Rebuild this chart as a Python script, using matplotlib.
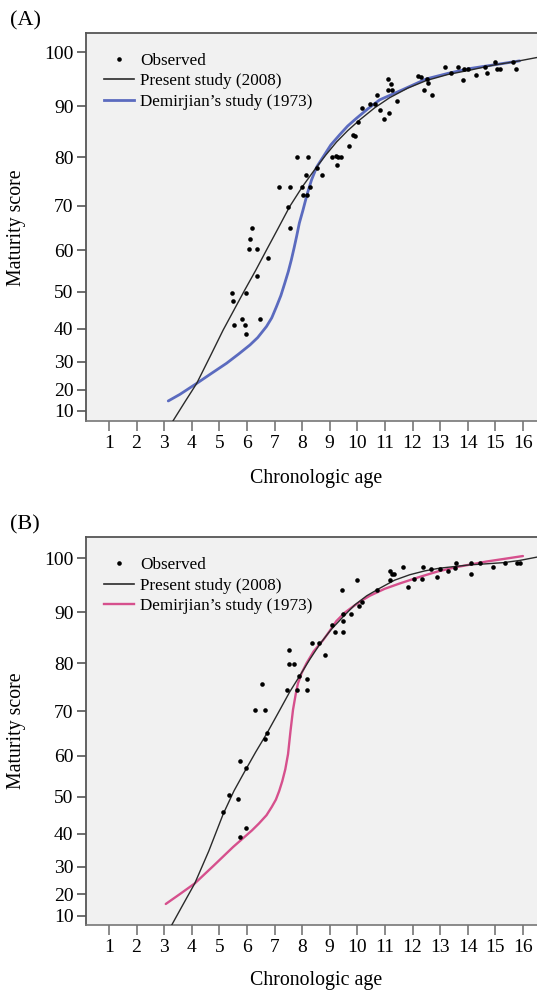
import numpy as np
import matplotlib
matplotlib.use("Agg")
import matplotlib.pyplot as plt
from matplotlib.lines import Line2D

plt.rcParams['font.family'] = ['Liberation Serif', 'DejaVu Serif']

# ---------------- Data: panel A ----------------
obs_age_A = [5.45, 5.50, 5.54, 5.84, 5.93, 5.95, 5.95, 6.08, 6.11, 6.17, 6.35, 6.35, 6.47, 6.77,
             7.17, 7.50, 7.56, 7.56, 7.80, 7.98, 8.13, 8.04, 8.16, 8.22, 8.28, 8.53, 8.71,
             9.07, 9.21, 9.31, 9.41, 9.27, 9.70, 9.83, 9.91, 10.03, 10.18, 10.46, 10.64, 10.70,
             10.82, 10.96, 11.14, 11.10, 11.22, 11.12, 11.26, 11.45, 12.21, 12.30, 12.53, 12.57,
             12.41, 12.69, 13.17, 13.39, 13.66, 13.82, 13.86, 14.02, 14.30, 14.62, 14.71, 14.99,
             15.07, 15.17, 15.65, 15.74]
obs_score_A = [49.7, 47.7, 41.1, 42.8, 41.1, 49.7, 38.6, 60.3, 62.6, 65.2, 60.3, 53.9, 42.8, 58.2,
               74.0, 69.8, 74.0, 65.2, 80.1, 74.0, 76.5, 72.3, 72.3, 80.1, 74.0, 77.8, 76.5,
               80.1, 80.3, 80.1, 80.0, 78.5, 82.3, 84.5, 84.3, 86.9, 89.6, 90.4, 90.4, 92.2,
               89.3, 87.5, 88.8, 95.0, 94.1, 93.0, 93.0, 91.0, 95.7, 95.4, 95.0, 94.3,
               93.0, 92.1, 97.3, 96.1, 97.3, 94.9, 96.9, 96.9, 95.8, 97.3, 96.1, 98.2,
               97.0, 97.0, 98.2, 97.0]

present_age_A = [3.32, 3.75, 4.18, 4.66, 5.14, 5.53, 5.92, 6.32, 6.71, 7.12, 7.55, 8.02, 8.49,
                 8.86, 9.25, 9.65, 10.09, 10.63, 11.17, 11.83, 12.50, 13.27, 14.07, 14.90,
                 15.76, 16.50]
present_score_A = [2.8, 14.6, 22.4, 31.6, 39.7, 45.2, 50.4, 55.3, 60.1, 64.9, 69.8, 74.1, 77.8,
                   80.5, 83.1, 85.3, 87.4, 89.7, 91.6, 93.4, 94.8, 95.9, 96.7, 97.6,
                   98.3, 99.0]

dem_age_A = [3.15, 3.57, 4.18, 4.69, 5.26, 5.70, 6.11, 6.39, 6.71, 6.90, 7.07, 7.23, 7.37, 7.50,
             7.61, 7.71, 7.80, 7.90, 8.03, 8.18, 8.34, 8.53, 8.76, 9.04, 9.36, 9.65, 9.97,
             10.38, 10.81, 11.64, 12.50, 13.27, 14.07, 14.98, 15.88]
dem_score_A = [15.1, 18.0, 22.4, 25.9, 29.5, 32.5, 35.3, 37.5, 40.7, 43.1, 46.1, 49.0, 52.1, 55.0,
               57.8, 60.6, 63.2, 66.2, 69.0, 72.4, 75.4, 78.1, 80.1, 82.5, 84.5, 86.2, 87.7,
               89.5, 91.2, 93.1, 95.1, 96.1, 97.0, 97.7, 98.4]

# ---------------- Data: panel B ----------------
obs_age_B = [5.14, 5.35, 5.66, 5.76, 5.95, 5.95, 5.76, 6.29, 6.53, 6.65, 6.74, 6.65, 7.46, 7.52,
             7.52, 7.70, 7.82, 7.90, 8.16, 8.18, 8.34, 8.60, 8.83, 9.07, 9.19, 9.47, 9.47, 9.47,
             9.76, 9.43, 9.99, 10.07, 10.18, 10.71, 11.18, 11.26, 11.33, 11.18, 11.64, 11.84,
             12.05, 12.34, 12.39, 12.66, 12.87, 13.00, 13.28, 13.57, 13.55, 14.13, 14.13, 14.44,
             14.90, 15.35, 15.77, 15.89]
obs_score_B = [46.0, 50.5, 49.4, 58.8, 57.2, 41.8, 39.1, 70.3, 75.7, 70.3, 65.2, 63.9, 74.4, 82.7,
               79.9, 79.9, 74.4, 77.4, 74.4, 76.8, 84.0, 84.0, 81.7, 87.6, 86.2, 86.2, 88.4, 89.7,
               89.7, 94.1, 96.0, 91.1, 91.9, 94.1, 97.7, 97.1, 97.1, 96.0, 98.4, 94.7,
               96.3, 96.3, 98.4, 98.0, 96.5, 98.0, 97.7, 99.2, 98.2, 99.2, 97.1, 99.1,
               98.4, 99.2, 99.1, 99.1]

present_age_B = [3.27, 3.69, 4.11, 4.62, 5.14, 5.53, 5.92, 6.32, 6.73, 7.14, 7.55, 7.92, 8.28,
                 8.64, 9.04, 9.48, 9.91, 10.34, 10.81, 11.35, 11.90, 12.44, 12.98, 13.53, 14.07,
                 14.69, 15.28, 15.88, 16.50]
present_score_B = [3.15, 15.75, 24.2, 35.0, 45.5, 51.5, 56.3, 60.9, 65.2, 69.7, 74.1, 77.5, 80.8,
                   83.8, 86.6, 89.1, 91.4, 93.1, 94.5, 96.0, 97.0, 97.7, 98.2, 98.5, 98.8,
                   99.0, 99.2, 99.6, 100.2]

dem_age_B = [3.06, 3.57, 4.11, 4.80, 5.50, 5.92, 6.18, 6.43, 6.71, 6.90, 7.05, 7.17, 7.28, 7.39,
             7.49, 7.58, 7.67, 7.77, 7.85, 7.99, 8.16, 8.42, 8.76, 9.00, 9.24, 9.54, 9.85,
             10.16, 10.45, 10.99, 11.54, 12.26, 12.91, 13.59, 14.14, 14.67, 15.34, 16.00]
dem_score_B = [15.9, 20.1, 24.2, 30.4, 36.2, 39.2, 41.0, 42.9, 45.2, 47.4, 49.3, 51.5, 53.9, 56.8,
               60.4, 65.7, 70.3, 73.7, 75.9, 78.1, 80.0, 82.4, 84.6, 86.4, 88.3, 89.9, 91.1,
               92.2, 93.1, 94.4, 95.4, 96.6, 97.6, 98.4, 98.9, 99.4, 99.9, 100.4]

yticks = [10, 20, 30, 40, 50, 60, 70, 80, 90, 100]
xticks = list(range(1, 17))

legend_labels = ["Observed", "Present study (2008)", "Demirjian\u2019s study (1973)"]

# ---------------- Figure ----------------
W, H = 537, 990
fig = plt.figure(figsize=(W / 100, H / 100), dpi=100)


def fwd(y):
    y = np.asarray(y, dtype=float)
    return np.sign(y) * np.abs(y) ** 1.5


def inv(v):
    v = np.asarray(v, dtype=float)
    return np.sign(v) * np.abs(v) ** (2.0 / 3.0)


def make_panel(top_px, bot_px, ylim, obs_x, obs_y, px, py, dx, dy, dcolor, dlw, tag, tag_y,
               xlabel_y, ylabel_y):
    left_px = 86
    ax = fig.add_axes([left_px / W, 1 - bot_px / H, (W - left_px) / W, (bot_px - top_px) / H])
    ax.set_facecolor('#f1f1f1')
    ax.set_yscale('function', functions=(fwd, inv))
    ax.set_xlim(0.17, 16.51)
    ax.set_ylim(*ylim)

    ax.plot(dx, dy, color=dcolor, lw=dlw, solid_capstyle='round', solid_joinstyle='round',
            zorder=2)
    ax.plot(px, py, color='#2a2a2a', lw=1.0, solid_joinstyle='round', zorder=3)
    ax.plot(obs_x, obs_y, 'o', color='black', ms=3.3, mew=0, zorder=4)

    ax.set_yticks(yticks)
    ax.set_yticklabels([str(t) for t in yticks])
    ax.set_xticks(xticks)
    ax.set_xticklabels([str(t) for t in xticks])
    ax.minorticks_off()
    ax.tick_params(axis='y', direction='out', length=6.5, width=1.2, color='#555555',
                   labelsize=14, pad=2.5)
    ax.tick_params(axis='x', direction='out', length=7.0, width=1.2, color='#777777',
                   labelsize=14, pad=3)
    for s in ['top', 'left']:
        ax.spines[s].set_color('#555555')
        ax.spines[s].set_linewidth(1.3)
    ax.spines['bottom'].set_color('#777777')
    ax.spines['bottom'].set_linewidth(1.2)
    ax.spines['right'].set_visible(False)

    handles = [
        Line2D([], [], marker='o', ls='none', color='black', ms=3.3, mew=0),
        Line2D([], [], color='#2a2a2a', lw=1.2),
        Line2D([], [], color=dcolor, lw=dlw),
    ]
    ax_h = bot_px - top_px
    ax.legend(handles, legend_labels, loc='upper left',
              bbox_to_anchor=(18 / (W - left_px), 1 - 19.5 / ax_h),
              frameon=False, fontsize=12.3, handlelength=1.75, handletextpad=0.35,
              labelspacing=0.28, borderpad=0, borderaxespad=0)

    fig.text(10 / W, 1 - tag_y / H, tag, fontsize=16, ha='left', va='center')
    fig.text(316 / W, 1 - xlabel_y / H, 'Chronologic age', fontsize=14.3, ha='center', va='center')
    fig.text(17 / W, 1 - ylabel_y / H, 'Maturity score', fontsize=14.3, ha='center', va='center',
             rotation=90)
    return ax


make_panel(33, 420.7, (3.09, 103.39), obs_age_A, obs_score_A, present_age_A, present_score_A,
           dem_age_A, dem_score_A, '#5b6bbf', 2.0, '(A)', 21, 478, 228)
make_panel(537.3, 925.3, (3.16, 103.75), obs_age_B, obs_score_B, present_age_B, present_score_B,
           dem_age_B, dem_score_B, '#d6508d', 1.7, '(B)', 525, 981, 731)

fig.savefig('out.png', dpi=100, facecolor='white')
